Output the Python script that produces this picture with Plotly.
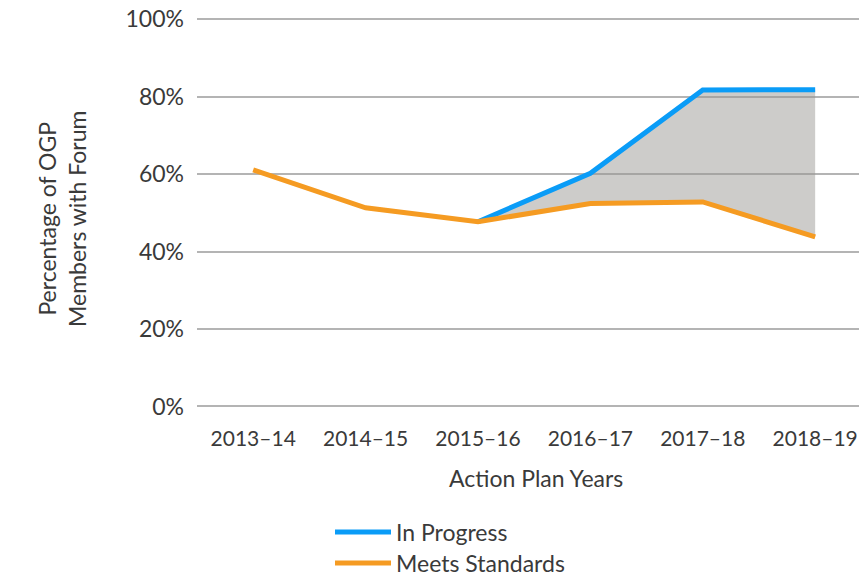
import plotly.graph_objects as go

years = ["2013–14", "2014–15", "2015–16", "2016–17", "2017–18", "2018–19"]
meets_standards = [61.1, 51.3, 47.7, 52.4, 52.8, 43.8]
in_progress_years = ["2015–16", "2016–17", "2017–18", "2018–19"]
in_progress = [47.7, 60.2, 81.7, 81.8]
y_ticks = [0, 20, 40, 60, 80, 100]
y_tick_labels = ["0%", "20%", "40%", "60%", "80%", "100%"]

BLUE = "#0a9cf7"
ORANGE = "#f59b22"
TEXT = "#3a3a3a"
FONT = "Lato"
FS = 23

fig = go.Figure()

# gray fill band between meets-standards and in-progress
fig.add_trace(go.Scatter(
    x=in_progress_years, y=meets_standards[2:], mode="lines",
    line=dict(width=0, color="rgba(0,0,0,0)"), showlegend=False, hoverinfo="skip"))
fig.add_trace(go.Scatter(
    x=in_progress_years, y=in_progress, mode="lines", fill="tonexty",
    fillcolor="rgba(150,148,144,0.48)",
    line=dict(width=0, color="rgba(0,0,0,0)"), showlegend=False, hoverinfo="skip"))

fig.add_trace(go.Scatter(
    x=in_progress_years, y=in_progress, mode="lines", name="In Progress",
    line=dict(color=BLUE, width=5), legend="legend"))
fig.add_trace(go.Scatter(
    x=years, y=meets_standards, mode="lines", name="Meets Standards",
    line=dict(color=ORANGE, width=5), legend="legend2"))

W, H = 859, 577
L, R, T, B = 197, 0, 18, 169
pw = W - L - R
ph = H - T - B

def px_x(x):
    return (x - L) / pw

def px_y(y):
    return (H - B - y) / ph

legend_style = dict(font=dict(size=FS, color=TEXT), bgcolor="rgba(0,0,0,0)",
                    itemwidth=56, xanchor="left", yanchor="middle")

fig.update_layout(
    width=W, height=H,
    margin=dict(l=L, r=R, t=T, b=B, autoexpand=False),
    paper_bgcolor="white", plot_bgcolor="white",
    font=dict(family=FONT, size=FS, color=TEXT),
    xaxis=dict(
        type="category", categoryorder="array", categoryarray=years,
        range=[-0.5, 5.39], showgrid=False, showline=False, zeroline=False,
        ticks="", ticklabelstandoff=16, tickfont=dict(size=21, color=TEXT),
        ticklabeloverflow="allow", automargin=False,
    ),
    yaxis=dict(
        range=[-0.4, 100.3], tickvals=y_ticks, ticktext=y_tick_labels,
        showgrid=True, gridcolor="#b4b4b4", gridwidth=1.5,
        zeroline=False, showline=False, ticks="", ticklabelstandoff=12,
        tickfont=dict(size=FS, color=TEXT), ticklabeloverflow="allow",
        automargin=False,
    ),
    legend=dict(x=px_x(330), y=px_y(532), **legend_style),
    legend2=dict(x=px_x(330), y=px_y(563), **legend_style),
    annotations=[
        dict(text="Action Plan Years", x=px_x(536), y=px_y(478),
             xref="paper", yref="paper", showarrow=False,
             xanchor="center", yanchor="middle", font=dict(size=FS, color=TEXT)),
        dict(text="Percentage of OGP<br>Members with Forum", x=px_x(62), y=px_y(219),
             xref="paper", yref="paper", showarrow=False, textangle=-90,
             xanchor="center", yanchor="middle", font=dict(size=FS, color=TEXT)),
    ],
)

# remove the browser's default 8px body margin so the figure fills the window
fig.write_html("out.html", config={"displayModeBar": False},
               post_script="document.body.style.margin='0';")
